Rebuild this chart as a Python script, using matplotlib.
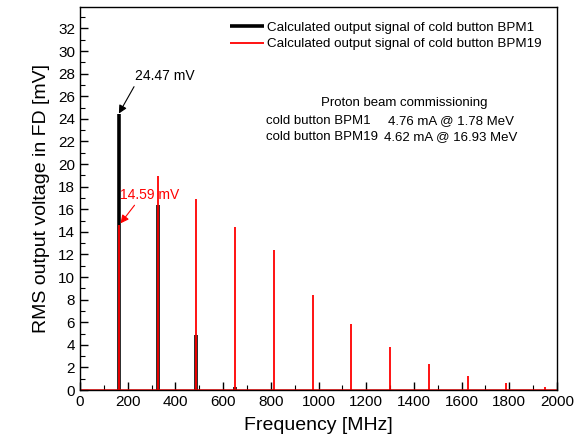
import numpy as np
import matplotlib.pyplot as plt
from matplotlib.ticker import MultipleLocator

plt.rcParams['font.family'] = ['Liberation Sans', 'DejaVu Sans']

# harmonics of the 162.5 MHz bunch frequency
FREQ_BPM1 = [162.5, 325.0, 487.5, 650.0]
VOLT_BPM1 = [24.47, 16.4, 4.9, 0.3]

FREQ_BPM19 = [162.5, 325.0, 487.5, 650.0, 812.5, 975.0, 1137.5,
              1300.0, 1462.5, 1625.0, 1787.5, 1950.0]
VOLT_BPM19 = [14.59, 18.9, 16.9, 14.4, 12.4, 8.4, 5.85,
              3.8, 2.3, 1.25, 0.6, 0.3]

LABEL_BPM1 = "Calculated output signal of cold button BPM1"
LABEL_BPM19 = "Calculated output signal of cold button BPM19"

W, H = 578, 447
fig = plt.figure(figsize=(W / 100, H / 100), dpi=100)
ax = fig.add_axes([80 / W, 1 - 390 / H, (557 - 80) / W, (390 - 7) / H])

ax.vlines(FREQ_BPM1, 0, VOLT_BPM1, color="black", lw=2.6, label=LABEL_BPM1)
ax.vlines(FREQ_BPM19, 0, VOLT_BPM19, color="red", lw=1.3, label=LABEL_BPM19)
ax.axhline(0, color="red", lw=1.8)

ax.set_xlim(0, 2000)
ax.set_ylim(0, 33.9)
ax.xaxis.set_major_locator(MultipleLocator(200))
ax.xaxis.set_minor_locator(MultipleLocator(100))
ax.yaxis.set_major_locator(MultipleLocator(2))
ax.yaxis.set_minor_locator(MultipleLocator(1))
ax.tick_params(which="both", direction="in", top=False, right=False, labelsize=11)
ax.tick_params(which="major", length=6, width=1.0)
ax.tick_params(which="minor", length=3.5, width=0.8)
for s in ax.spines.values():
    s.set_linewidth(1.0)

ax.set_xlabel("Frequency [MHz]", fontsize=14, labelpad=6)
ax.set_ylabel("RMS output voltage in FD [mV]", fontsize=14, labelpad=6)

leg = ax.legend(loc="upper left", bbox_to_anchor=((230 - 80) / 477 - 0.03, 1.0),
                frameon=False, fontsize=9.6, handlelength=2.5,
                handletextpad=0.25, labelspacing=0.3, borderaxespad=0.7)

# annotations of the first harmonic
ax.annotate("24.47 mV", xy=(163, 24.47), xytext=(231, 27.2), fontsize=10,
            color="black",
            arrowprops=dict(arrowstyle="-|>", color="black", lw=0.8,
                            shrinkA=1, shrinkB=0, mutation_scale=12,
                            relpos=(0.02, 0.0)),
            va="bottom", ha="left")
ax.annotate("14.59 mV", xy=(170, 14.75), xytext=(168, 16.6), fontsize=10,
            color="red",
            arrowprops=dict(arrowstyle="-|>", color="red", lw=0.8,
                            shrinkA=0, shrinkB=0, mutation_scale=12,
                            relpos=(0.28, 0.0)),
            va="bottom", ha="left")

# beam info text
fs = 9.5
fig.text(404 / W, 1 - 103 / H, "Proton beam commissioning", fontsize=fs,
         ha="center", va="center")
fig.text(266 / W, 1 - 121 / H, "cold button BPM1", fontsize=fs, ha="left", va="center")
fig.text(388 / W, 1 - 121 / H, "4.76 mA @ 1.78 MeV", fontsize=fs, ha="left", va="center")
fig.text(266 / W, 1 - 137 / H, "cold button BPM19", fontsize=fs, ha="left", va="center")
fig.text(384 / W, 1 - 137 / H, "4.62 mA @ 16.93 MeV", fontsize=fs, ha="left", va="center")

fig.savefig("out.png", dpi=100)
